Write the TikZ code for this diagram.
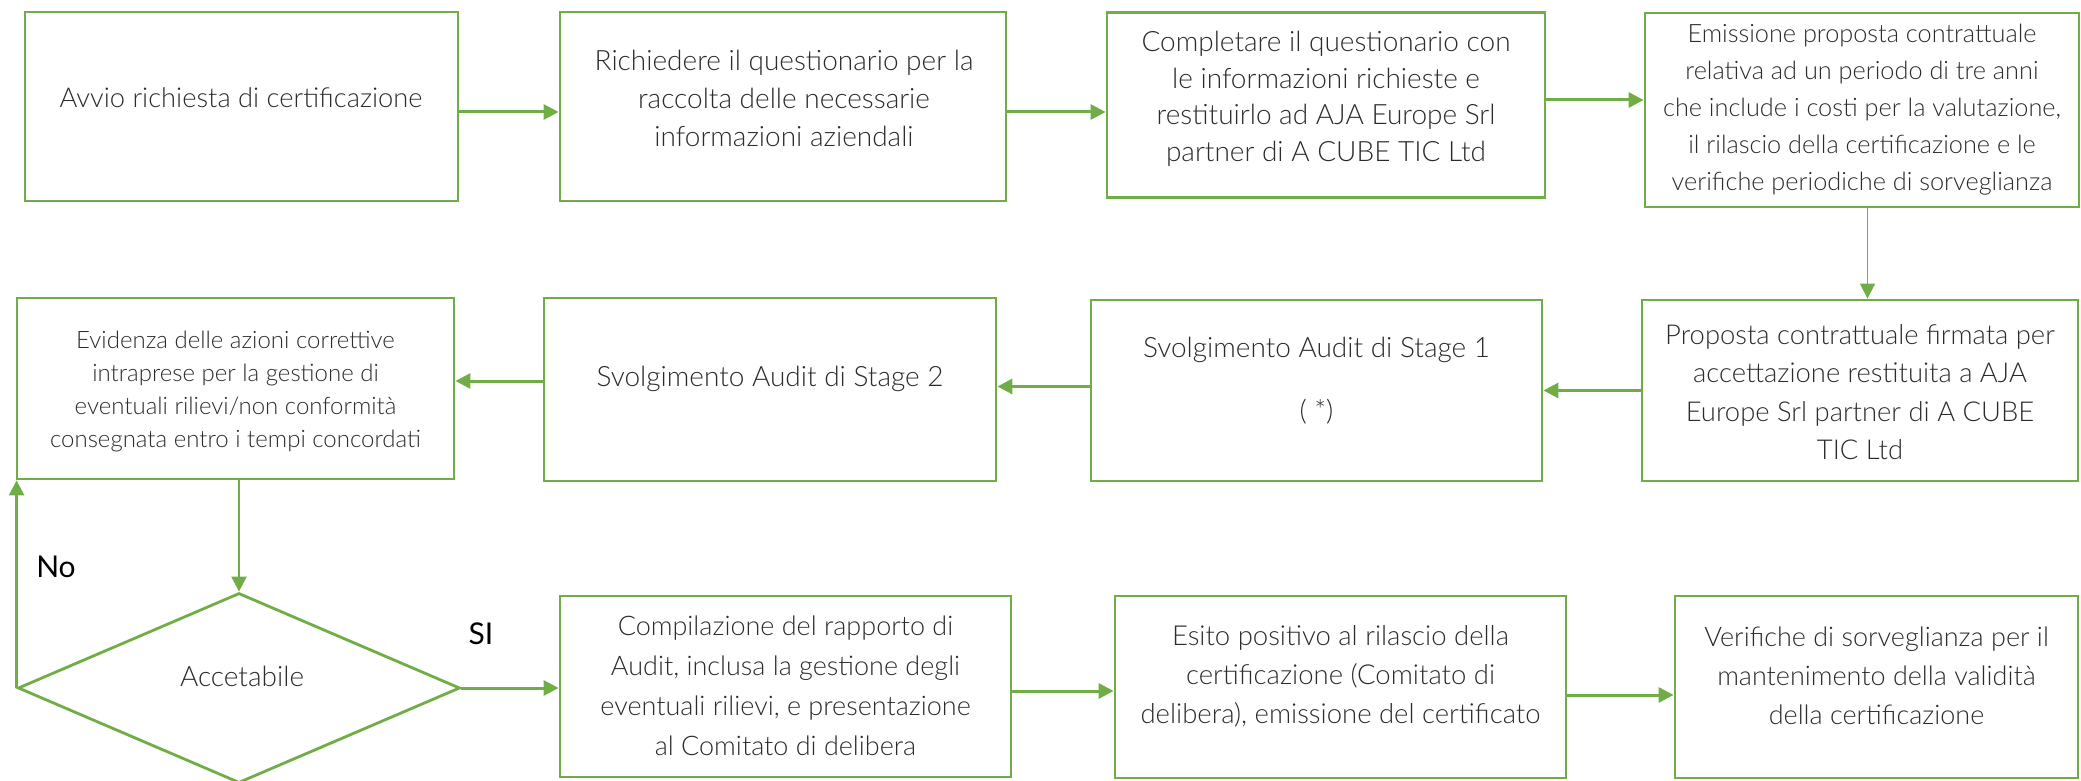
\documentclass[tikz,border=0pt]{standalone}
\usepackage{fontspec}
\setmainfont{Lato Light}
\newfontfamily\lblfont{Lato}
\usetikzlibrary{shapes.geometric,arrows.meta}
\definecolor{grn}{HTML}{70AD47}
\definecolor{txtc}{HTML}{2B2B2B}
\begin{document}
\begin{tikzpicture}[x=1pt,y=-1pt,
  box/.style={draw=grn,line width=2.8pt,rectangle,inner sep=0pt},
  dia/.style={draw=grn,line width=2.8pt,diamond,inner sep=0pt},
  txt/.style={text=txtc,align=center,inner sep=0pt,font=\fontsize{28}{38}\selectfont},
  txtsmall/.style={text=txtc,align=center,inner sep=0pt,font=\fontsize{25.3}{37}\selectfont},
  txtsmaller/.style={text=txtc,align=center,inner sep=0pt,font=\fontsize{24}{33}\selectfont},
  lbl/.style={text=black,inner sep=0pt,font=\lblfont\fontsize{30}{36}\selectfont},
  arr/.style={draw=grn,line width=3pt,-{Triangle[length=15pt,width=15pt]}},
  thinarr/.style={draw=grn,line width=1.6pt,-{Triangle[length=15pt,width=15pt]}},
]
\useasboundingbox (0,0) rectangle (2081,781);

% row 1
\node[box,minimum width=433pt,minimum height=189pt] (b1) at (241.5,106.5) {};
\node[txt,font=\fontsize{27.3}{38}\selectfont] (t1) at (241,98) {Avvio richiesta di certificazione};
\node[box,minimum width=446pt,minimum height=189pt] (b2) at (783,106.5) {};
\node[txt] (t2) at (784,98) {Richiedere il questionario per la\\raccolta delle necessarie\\informazioni aziendali};
\node[box,minimum width=438pt,minimum height=185pt] (b3) at (1326,105) {};
\node[txt,font=\fontsize{28}{36.5}\selectfont] (t3) at (1326,99) {Completare il questionario con\\le informazioni richieste e\\restituirlo ad AJA Europe Srl\\partner di A CUBE TIC Ltd};
\node[box,minimum width=434pt,minimum height=194pt] (b4) at (1862,110) {};
\node[txtsmall] (t4) at (1862,110) {Emissione proposta contrattuale\\relativa ad un periodo di tre anni\\che include i costi per la valutazione,\\il rilascio della certificazione e le\\verifiche periodiche di sorveglianza};

% row 2
\node[box,minimum width=437pt,minimum height=181pt] (b5) at (235.5,388.5) {};
\node[txtsmaller] (t5) at (235.5,391) {Evidenza delle azioni correttive\\intraprese per la gestione di\\eventuali rilievi/non conformità\\consegnata entro i tempi concordati};
\node[box,minimum width=452pt,minimum height=183pt] (b6) at (770,389.5) {};
\node[txt] (t6) at (770,379) {Svolgimento Audit di Stage 2};
\node[box,minimum width=451pt,minimum height=181pt] (b7) at (1316.5,390.5) {};
\node[txt] (t7) at (1316.5,381) {Svolgimento Audit di Stage 1\\[25pt]( *)};
\node[box,minimum width=436pt,minimum height=181pt] (b8) at (1860,390.5) {};
\node[txt,font=\fontsize{27.4}{38.5}\selectfont] (t8) at (1860,392) {Proposta contrattuale firmata per\\accettazione restituita a AJA\\Europe Srl partner di A CUBE\\TIC Ltd};

% row 3
\node[dia,minimum width=442pt,minimum height=190pt] (d) at (239,688) {};
\node[txt] (td) at (242,676) {Accetabile};
\node[box,minimum width=451pt,minimum height=181pt] (b9) at (785.5,686.5) {};
\node[txt,font=\fontsize{27}{40}\selectfont] (t9) at (785.5,686) {Compilazione del rapporto di\\Audit, inclusa la gestione degli\\eventuali rilievi, e presentazione\\al Comitato di delibera};
\node[box,minimum width=451pt,minimum height=182pt] (b10) at (1340.5,687) {};
\node[txt,font=\fontsize{27.5}{39}\selectfont] (t10) at (1340.5,676) {Esito positivo al rilascio della\\certificazione (Comitato di\\delibera), emissione del certificato};
\node[box,minimum width=403pt,minimum height=182pt] (b11) at (1876.5,687) {};
\node[txt,font=\fontsize{27}{39}\selectfont] (t11) at (1876.5,676) {Verifiche di sorveglianza per il\\mantenimento della validità\\della certificazione};

\node[lbl] (no) at (56,567) {No};
\node[lbl] (si) at (481,634) {SI};

% connectors
\draw[arr] ([yshift=-5.5pt]b1.east) -- ([yshift=-5.5pt]b2.west);
\draw[arr] ([yshift=-5.5pt]b2.east) -- ([yshift=-5.5pt]b2.east -| b3.west);
\draw[arr] ([yshift=5pt]b3.east) -- ([yshift=5pt]b3.east -| b4.west);
\draw[thinarr] ([xshift=5.5pt]b4.south) -- ([xshift=5.5pt]b4.south |- b8.north);
\draw[arr] (b8.west) -- (b8.west -| b7.east);
\draw[arr] ([yshift=4pt]b7.west) -- ([yshift=4pt]b7.west -| b6.east);
\draw[arr] ([yshift=8.5pt]b6.west) -- ([yshift=8.5pt]b6.west -| b5.east);
\draw[thinarr,line width=2pt] (b5.south -| d.north) -- (d.north);
\draw[arr,line width=2.5pt] (d.west) -- (d.west |- b5.south);
\draw[arr] (d.east) -- (d.east -| b9.west);
\draw[arr] ([yshift=-4.5pt]b9.east) -- ([yshift=-4.5pt]b9.east -| b10.west);
\draw[arr] ([yshift=-8pt]b10.east) -- ([yshift=-8pt]b10.east -| b11.west);
\end{tikzpicture}
\end{document}
